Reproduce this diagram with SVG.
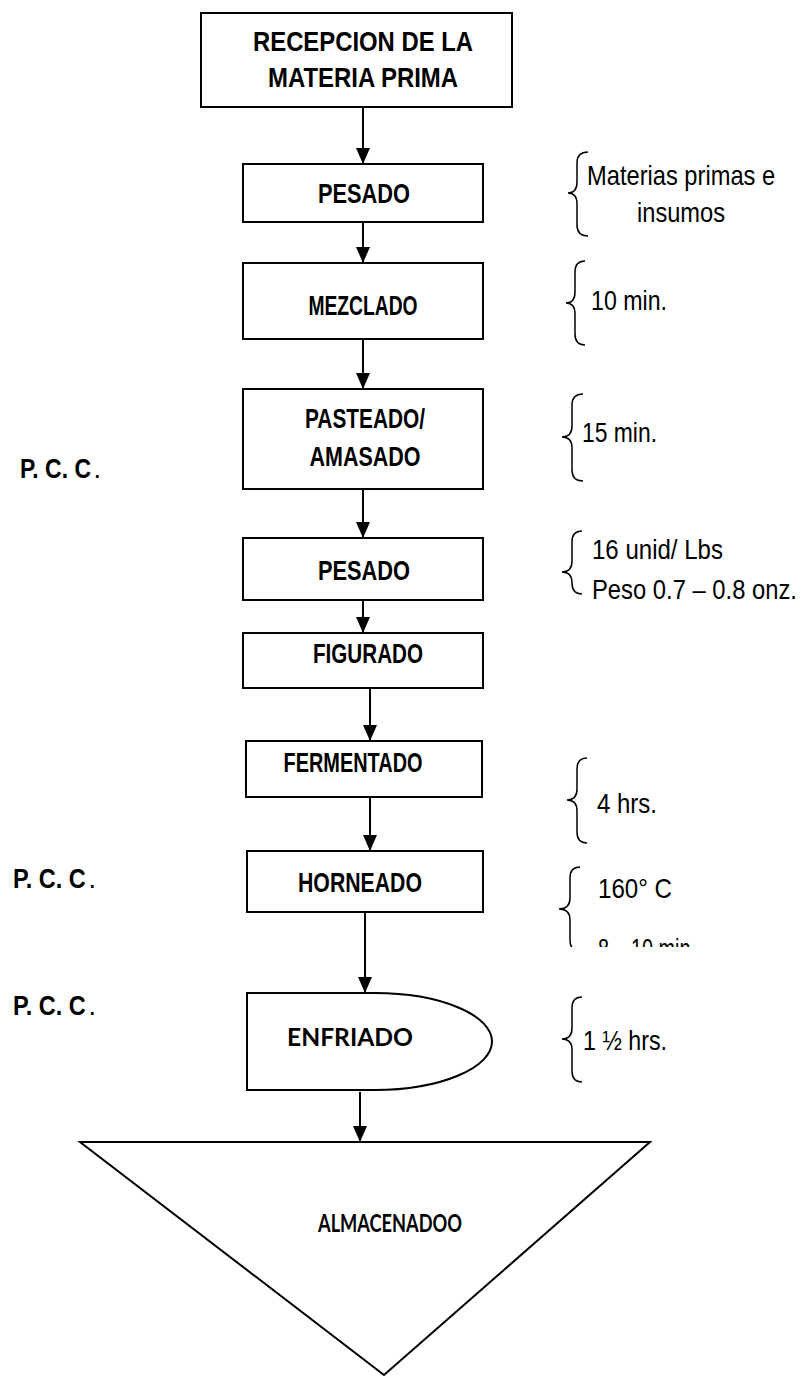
<svg xmlns="http://www.w3.org/2000/svg" width="804" height="1378" viewBox="0 0 804 1378">
<defs>
<marker id="ah" markerWidth="16" markerHeight="14" refX="16" refY="7" orient="auto" markerUnits="userSpaceOnUse">
<path d="M0,0 L16,7 L0,14 Z" fill="#000"/>
</marker>
<clipPath id="clipH"><rect x="540" y="840" width="264" height="107"/></clipPath>
<style>
.box{fill:#fff;stroke:#000;stroke-width:2}
.lbl{font-family:"Liberation Sans Narrow","Liberation Sans",Arial,sans-serif;font-weight:bold;font-size:28px;text-anchor:middle;fill:#000}
.cal{font-family:Lato,"Open Sans",sans-serif;font-weight:bold;font-size:24px;text-anchor:middle;fill:#000}
.note{font-family:"Liberation Sans Narrow","Liberation Sans",Arial,sans-serif;font-size:28px;fill:#000}
.pcc{font-family:"Liberation Sans Narrow","Liberation Sans",Arial,sans-serif;font-weight:bold;font-size:27px;fill:#000}
.dot{font-family:"Liberation Sans",Arial,sans-serif;font-size:27px;fill:#000}
.br{fill:none;stroke:#000;stroke-width:1.5}
.con{stroke:#000;stroke-width:2;fill:none;marker-end:url(#ah)}
</style>
</defs>
<rect width="804" height="1378" fill="#fff"/>

<g id="recepcion">
<rect class="box" x="201" y="13" width="311" height="94"/>
<text class="lbl" x="363" y="51" textLength="220" lengthAdjust="spacingAndGlyphs">RECEPCION DE LA</text>
<text class="lbl" x="363" y="87" textLength="190" lengthAdjust="spacingAndGlyphs">MATERIA PRIMA</text>
</g>
<g id="pesado1">
<rect class="box" x="243" y="164" width="240" height="58"/>
<text class="lbl" x="364" y="203" textLength="92" lengthAdjust="spacingAndGlyphs">PESADO</text>
</g>
<g id="mezclado">
<rect class="box" x="243" y="263" width="240" height="76"/>
<text class="lbl" x="363" y="315" textLength="109" lengthAdjust="spacingAndGlyphs">MEZCLADO</text>
</g>
<g id="pasteado">
<rect class="box" x="243" y="389" width="240" height="100"/>
<text class="lbl" x="365" y="428" textLength="120" lengthAdjust="spacingAndGlyphs">PASTEADO/</text>
<text class="lbl" x="365" y="466" textLength="111" lengthAdjust="spacingAndGlyphs">AMASADO</text>
</g>
<g id="pesado2">
<rect class="box" x="243" y="538" width="240" height="62"/>
<text class="lbl" x="364" y="580" textLength="92" lengthAdjust="spacingAndGlyphs">PESADO</text>
</g>
<g id="figurado">
<rect class="box" x="243" y="633" width="240" height="55"/>
<text class="lbl" x="368" y="663" textLength="110" lengthAdjust="spacingAndGlyphs">FIGURADO</text>
</g>
<g id="fermentado">
<rect class="box" x="246" y="741" width="236" height="56"/>
<text class="lbl" x="353" y="772" textLength="139" lengthAdjust="spacingAndGlyphs">FERMENTADO</text>
</g>
<g id="horneado">
<rect class="box" x="247" y="851" width="236" height="61"/>
<text class="lbl" x="360" y="892" textLength="124" lengthAdjust="spacingAndGlyphs">HORNEADO</text>
</g>
<g id="enfriado">
<path class="box" d="M247,993 H375 A117,48.5 0 0 1 375,1090 H247 Z"/>
<text class="cal" x="350" y="1046" textLength="126" lengthAdjust="spacingAndGlyphs">ENFRIADO</text>
</g>
<g id="almacenado">
<path class="box" d="M80,1142 H650 L384,1375 Z"/>
<text class="cal" x="390" y="1232" font-size="21" textLength="144" lengthAdjust="spacingAndGlyphs">ALMACENADOO</text>
</g>

<g id="connectors">
<line class="con" x1="363" y1="107" x2="363" y2="164"/>
<line class="con" x1="363" y1="222" x2="363" y2="263"/>
<line class="con" x1="363" y1="339" x2="363" y2="389"/>
<line class="con" x1="363" y1="489" x2="363" y2="538"/>
<line class="con" x1="363" y1="600" x2="363" y2="633"/>
<line class="con" x1="370" y1="688" x2="370" y2="741"/>
<line class="con" x1="370" y1="797" x2="370" y2="851"/>
<line class="con" x1="365" y1="912" x2="365" y2="993"/>
<line class="con" x1="360" y1="1092" x2="360" y2="1142"/>
</g>

<g id="notes">
<path class="br" d="M588,152 Q577,152 577,163 V182 Q577,193 568,193 Q577,193 577,204 V225 Q577,236 588,236"/>
<text class="note" transform="translate(587,185) scale(0.846,1)" x="0" y="0">Materias primas e</text>
<text class="note" x="637" y="222" textLength="88" lengthAdjust="spacingAndGlyphs">insumos</text>

<path class="br" d="M585,261 Q575,261 575,272 V292 Q575,303 566,303 Q575,303 575,314 V334 Q575,345 585,345"/>
<text class="note" x="591" y="310" textLength="76" lengthAdjust="spacingAndGlyphs">10 min.</text>

<path class="br" d="M583,394 Q572,394 572,405 V426 Q572,437 562,437 Q572,437 572,448 V470 Q572,481 583,481"/>
<text class="note" x="582" y="442" textLength="75" lengthAdjust="spacingAndGlyphs">15 min.</text>

<path class="br" d="M582,531 Q572,531 572,542 V561 Q572,572 562,572 Q572,572 572,583 V583 Q572,594 582,594"/>
<text class="note" x="592" y="559" textLength="131" lengthAdjust="spacingAndGlyphs">16 unid/ Lbs</text>
<text class="note" transform="translate(592,599) scale(0.85,1)" x="0" y="0">Peso 0.7 – 0.8 onz.</text>

<path class="br" d="M587,758 Q577,758 577,769 V789 Q577,800 567,800 Q577,800 577,811 V832 Q577,843 587,843"/>
<text class="note" x="597" y="813" textLength="60" lengthAdjust="spacingAndGlyphs">4 hrs.</text>

<g clip-path="url(#clipH)">
<path class="br" d="M580,867 Q570,867 570,878 V898 Q570,909 559,909 Q570,909 570,920 V940 Q570,951 580,951"/>
<text class="note" x="598" y="898" textLength="74" lengthAdjust="spacingAndGlyphs">160° C</text>
<text class="note" x="598" y="958" textLength="98" lengthAdjust="spacingAndGlyphs">8 – 10 min.</text>
</g>

<path class="br" d="M582,997 Q572,997 572,1008 V1028 Q572,1039 562,1039 Q572,1039 572,1050 V1071 Q572,1082 582,1082"/>
<text class="note" x="583" y="1050" textLength="84" lengthAdjust="spacingAndGlyphs">1 ½ hrs.</text>
</g>

<g id="pcc">
<text class="pcc" transform="translate(20,478) scale(0.85,1)" x="0" y="0">P. C. C</text>
<text class="dot" x="93.5" y="478">.</text>
<text class="pcc" transform="translate(13,888) scale(0.87,1)" x="0" y="0">P. C. C</text>
<text class="dot" x="88.5" y="888">.</text>
<text class="pcc" transform="translate(13,1015) scale(0.87,1)" x="0" y="0">P. C. C</text>
<text class="dot" x="88.5" y="1015">.</text>
</g>
</svg>
